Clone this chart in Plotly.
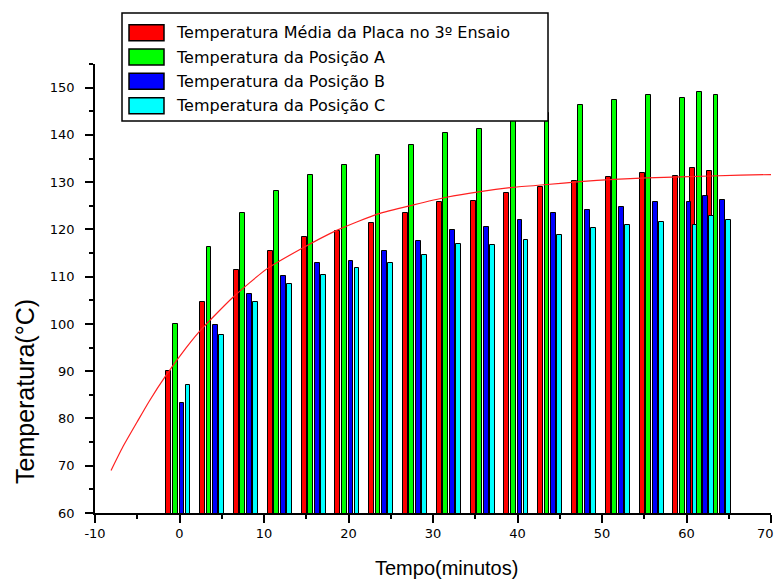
import plotly.graph_objects as go

# Tempo de ensaio (minutos) e temperaturas medidas (°C)
tempo = [0, 4, 8, 12, 16, 20, 24, 28, 32, 36, 40, 44, 48, 52, 56, 60, 62, 64]
temp_media = [90.1, 104.6, 111.4, 115.5, 118.3, 119.7, 121.3, 123.4, 125.7, 126.1,
              127.8, 128.9, 130.3, 131.0, 132.0, 131.2, 133.0, 132.4]
temp_pos_a = [100.0, 116.2, 123.4, 128.2, 131.6, 133.7, 135.7, 137.8, 140.5, 141.2,
              143.2, 144.7, 146.3, 147.4, 148.5, 147.8, 149.1, 148.4]
temp_pos_b = [83.2, 99.7, 106.4, 110.1, 112.8, 113.4, 115.5, 117.6, 119.9, 120.6,
              122.0, 123.4, 124.1, 124.8, 125.9, 125.7, 127.1, 126.2]
temp_pos_c = [87.0, 97.7, 104.6, 108.5, 110.4, 111.8, 113.0, 114.6, 116.9, 116.7,
              117.8, 118.9, 120.4, 121.0, 121.6, 121.0, 122.9, 122.0]

# Curva de ajuste da temperatura média
ajuste_t = [-8.1, -6.7, -5.0, -3.6, -1.6, 0.8, 2.4, 6.3, 10.3, 14.2, 18.6, 23.5, 27.7,
            31.6, 35.6, 39.5, 43.5, 47.4, 51.4, 55.3, 59.3, 66.4, 70.0]
ajuste_T = [69.0, 74.0, 79.3, 83.6, 89.1, 95.0, 98.5, 105.6, 111.6, 115.7, 119.8, 123.3,
            125.2, 126.8, 128.0, 128.9, 129.5, 130.1, 130.6, 130.9, 131.1, 131.5, 131.6]

nomes = ["Temperatura Média da Placa no 3º Ensaio",
         "Temperatura da Posição A",
         "Temperatura da Posição B",
         "Temperatura da Posição C"]
series = [temp_media, temp_pos_a, temp_pos_b, temp_pos_c]
cores = ["#FF0000", "#00FF00", "#0000FF", "#00FFFF"]
deslocamentos = [-1.55, -0.8, 0.0, 0.72]

x_ticks = [-10, 0, 10, 20, 30, 40, 50, 60, 70]
x_rotulos = ["-10", "0", "10", "20", "30", "40", "50", "60", ""]
y_ticks = [60, 70, 80, 90, 100, 110, 120, 130, 140, 150]

W, H = 777, 579
L, R, T, B = 95, 6, 64, 66


def px_x(p):
    return (p - L) / (W - L - R)


def px_y(p):
    return (H - B - p) / (H - T - B)


fig = go.Figure()

for nome, valores, cor, desl in zip(nomes, series, cores, deslocamentos):
    fig.add_trace(go.Bar(
        x=tempo, y=valores, name=nome, offset=desl, width=0.58,
        marker=dict(color=cor, line=dict(color="black", width=1)),
        showlegend=False,
    ))

fig.add_trace(go.Scatter(
    x=ajuste_t, y=ajuste_T, mode="lines",
    line=dict(color="#FF2020", width=1.2, shape="spline", smoothing=0.6),
    showlegend=False, hoverinfo="skip",
))

# Legenda desenhada em caixa própria
shapes = [dict(type="rect", xref="paper", yref="paper",
               x0=px_x(122), x1=px_x(548), y0=px_y(121), y1=px_y(13),
               line=dict(color="black", width=1.5), fillcolor="white", layer="above")]
annotations = []
linhas_y = [32.8, 57.0, 81.3, 105.7]
for nome, cor, yc in zip(nomes, cores, linhas_y):
    shapes.append(dict(type="rect", xref="paper", yref="paper",
                       x0=px_x(129), x1=px_x(164), y0=px_y(yc + 8), y1=px_y(yc - 8),
                       line=dict(color="black", width=1.5), fillcolor=cor, layer="above"))
    annotations.append(dict(text=nome, xref="paper", yref="paper",
                            x=px_x(174), y=px_y(yc), xanchor="left", yanchor="middle",
                            showarrow=False,
                            font=dict(family="DejaVu Sans", size=16, color="black")))

# Rótulo do último tick encostado à borda direita
annotations.append(dict(text="70", xref="paper", yref="paper",
                        x=px_x(776), y=px_y(524), xanchor="right", yanchor="top",
                        showarrow=False,
                        font=dict(family="DejaVu Sans", size=13, color="black")))

annotations.append(dict(text="Tempo(minutos)", xref="paper", yref="paper",
                        x=px_x(446), y=px_y(555), xanchor="center", yanchor="top",
                        showarrow=False,
                        font=dict(family="Liberation Sans", size=20, color="black")))
annotations.append(dict(text="Temperatura(°C)", xref="paper", yref="paper",
                        x=px_x(25), y=px_y(392), xanchor="center", yanchor="middle",
                        textangle=-90, showarrow=False,
                        font=dict(family="Liberation Sans", size=25, color="black")))

fig.update_layout(
    width=W, height=H,
    margin=dict(l=L, r=R, t=T, b=B, pad=0, autoexpand=False),
    paper_bgcolor="white", plot_bgcolor="white",
    barmode="overlay", bargap=0,
    shapes=shapes, annotations=annotations,
    font=dict(family="DejaVu Sans", size=13, color="black"),
)

fig.update_xaxes(
    range=[-10, 70], tickvals=x_ticks, ticktext=x_rotulos, ticks="outside", ticklen=8,
    tickwidth=1.5, tickcolor="black", showline=True, linecolor="black", linewidth=1.5,
    showgrid=False, zeroline=False, automargin=False,
    minor=dict(dtick=5, tick0=-5, ticks="outside", ticklen=4, tickwidth=1.5,
               tickcolor="black", showgrid=False),
    tickfont=dict(family="DejaVu Sans", size=13, color="black"),
)
fig.update_yaxes(
    range=[60, 155], tickvals=y_ticks, ticks="outside", ticklen=8, tickwidth=1.5,
    tickcolor="black", showline=True, linecolor="black", linewidth=1.5,
    showgrid=False, zeroline=False, automargin=False,
    minor=dict(dtick=5, tick0=65, ticks="outside", ticklen=4, tickwidth=1.5,
               tickcolor="black", showgrid=False),
    tickfont=dict(family="DejaVu Sans", size=13, color="black"),
    ticklabelstandoff=8,
)

fig.write_html("out.html")
